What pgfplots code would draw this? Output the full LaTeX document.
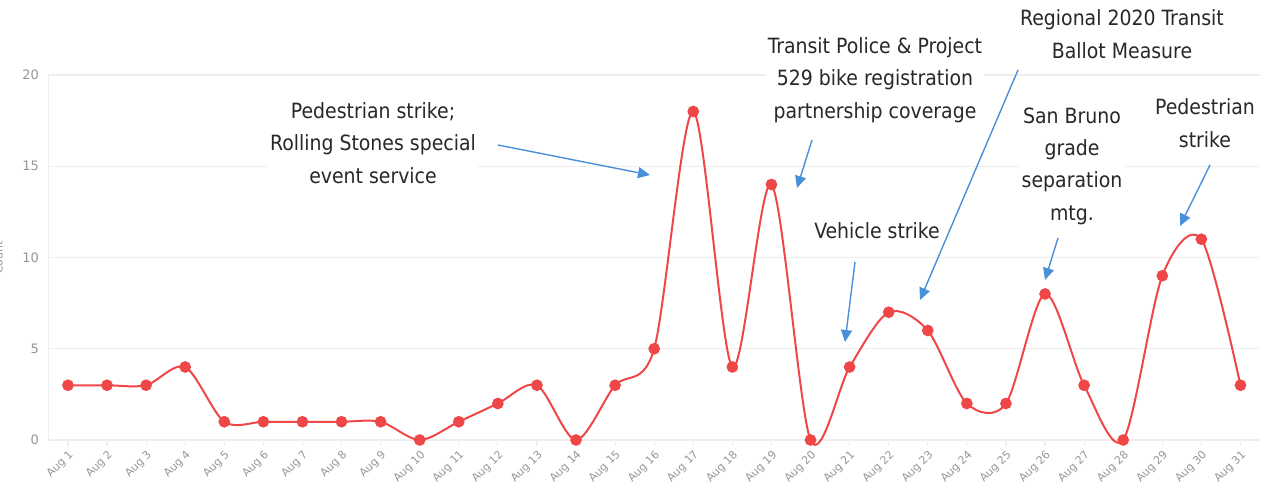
\documentclass[border=0pt]{standalone}
\usepackage{pgfplots}
\pgfplotsset{compat=1.18}
\usetikzlibrary{arrows.meta}
\usepackage{fontspec}
\setmainfont{DejaVu Sans}
\newfontfamily\annfont{DejaVu Sans Condensed}
\definecolor{linered}{RGB}{239,70,72}
\definecolor{arrowblue}{RGB}{74,144,217}
\definecolor{gridc}{RGB}{238,238,238}
\definecolor{tickc}{RGB}{150,150,150}
\definecolor{anntext}{RGB}{40,40,40}
\begin{document}
\begin{tikzpicture}
\begin{axis}[
  scale only axis,
  width=606pt, height=182.5pt,
  at={(0,0)}, anchor=south west,
  xmin=0.49, xmax=31.5, ymin=0, ymax=20,
  clip=false,
  axis lines=left,
  axis line style={gridc, -},
  xtick={1,...,31},
  xticklabels={Aug 1,Aug 2,Aug 3,Aug 4,Aug 5,Aug 6,Aug 7,Aug 8,Aug 9,Aug 10,Aug 11,Aug 12,Aug 13,Aug 14,Aug 15,Aug 16,Aug 17,Aug 18,Aug 19,Aug 20,Aug 21,Aug 22,Aug 23,Aug 24,Aug 25,Aug 26,Aug 27,Aug 28,Aug 29,Aug 30,Aug 31},
  x tick label style={rotate=45, anchor=north east, font=\fontsize{5.5}{6}\selectfont, text=tickc, inner sep=1pt},
  xtick style={gridc, line width=0.6pt},
  major tick length=3pt,
  tick align=outside,
  ytick={0,5,15,20},
  yticklabels={0,5,15,20},
  extra y ticks={10},
  extra y tick labels={10},
  extra y tick style={grid=major, major grid style={gridc, line width=0.6pt}, tick style={draw=none}},
  ytick style={draw=none},
  y tick label style={font=\fontsize{6.5}{7}\selectfont, text=tickc, xshift=2pt},
  ymajorgrids,
  major grid style={gridc, line width=0.6pt},
  ylabel={Count},
  ylabel style={font=\fontsize{5.5}{6}\selectfont, text=tickc},
  ylabel shift=-3pt,
]
\addplot[linered, line width=1pt, smooth, tension=0.5, mark=*, mark size=2.4pt, mark options={fill=linered, draw=linered}]
coordinates {
(1,3)(2,3)(3,3)(4,4)(5,1)(6,1)(7,1)(8,1)(9,1)(10,0)(11,1)(12,2)(13,3)(14,0)(15,3)(16,5)
(17,18)(18,4)(19,14)(20,0)(21,4)(22,7)(23,6)(24,2)(25,2)(26,8)(27,3)(28,0)(29,9)(30,11)(31,3)
};
\end{axis}
\begin{scope}[x=0.5pt, y=-0.5pt, shift={(-24pt,220pt)}]
\tikzset{ann/.style={align=center, font=\annfont\fontsize{10.5}{16.2}\selectfont, text=anntext, fill=white, inner sep=1pt},
  arr/.style={arrowblue, line width=0.7pt, -{Triangle[length=6pt, width=5.5pt]}}}
\node[ann] at (373,143) {Pedestrian strike;\\Rolling Stones special\\event service};
\draw[arr] (498,145) -- (650,175);
\node[ann] at (875,80) {Transit Police \& Project\\529 bike registration\\partnership coverage};
\draw[arr] (812,140) -- (797,188);
\node[ann] at (1122,34) {Regional 2020 Transit\\Ballot Measure};
\draw[arr] (1018,70) -- (920,300);
\node[ann] at (877,231) {Vehicle strike};
\draw[arr] (855,262) -- (845,342);
\node[ann] at (1072,166) {San Bruno\\grade\\separation\\mtg.};
\draw[arr] (1058,238) -- (1045,280);
\node[ann] at (1205,123) {Pedestrian\\strike};
\draw[arr] (1210,165) -- (1180,226);
\pgfresetboundingbox
\path[use as bounding box] (0,0) rectangle (1282,493);
\end{scope}
\end{tikzpicture}
\end{document}
